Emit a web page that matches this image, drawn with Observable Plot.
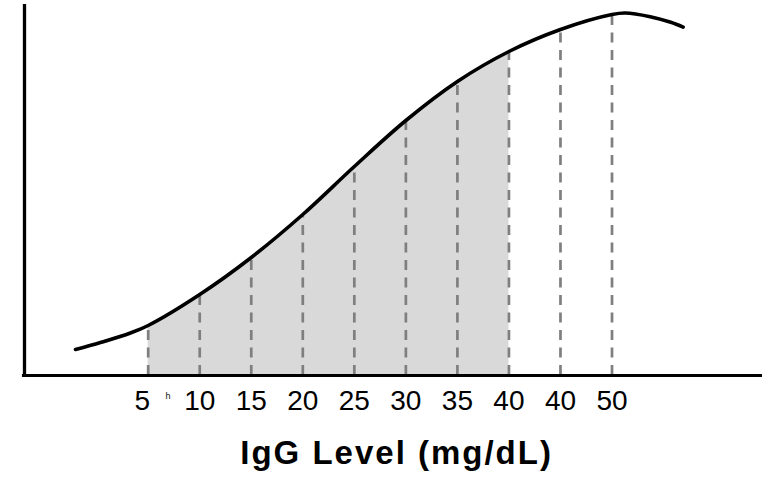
<!DOCTYPE html>
<html>
<head>
<meta charset="utf-8">
<script src="https://cdn.jsdelivr.net/npm/d3@7"></script>
<script src="https://cdn.jsdelivr.net/npm/@observablehq/plot@0.6"></script>
<style>
  html, body { margin: 0; padding: 0; background: #ffffff; }
  #chart { width: 762px; height: 477px; }
</style>
</head>
<body>
<div id="chart"></div>
<script>
// Curve (IgG level vs. arbitrary response)
const curveX = [-2.05, 0.37, 3.28, 5, 10, 15, 20, 25, 30, 35, 40, 45, 50, 51.3, 53.7, 55.7, 56.9];
const curveY = [7.0, 8.89, 11.46, 13.48, 21.83, 31.81, 43.4, 56.33, 68.73, 79.25, 87.33, 93.26, 97.3, 97.7, 96.7, 95.2, 93.9];

// Tick positions and their printed labels (as shown in the original)
const tickValues = [5, 10, 15, 20, 25, 30, 35, 40, 45, 50];
const tickLabels = ["5", "10", "15", "20", "25", "30", "35", "40", "40", "50"];

// Shaded range
const shadeFrom = 5;
const shadeTo = 40;

// Stray mark between 5 and 10
const strayX = [6.92];
const strayText = ["h"];

const axisTitle = "IgG Level (mg/dL)";
const titleX = 29.1;

const curve = curveX.map((x, i) => ({x, y: curveY[i]}));
const shaded = curve.filter(d => d.x >= shadeFrom && d.x <= shadeTo);
const ticks = tickValues.map((x, i) => ({
  x,
  label: tickLabels[i],
  top: curveY[curveX.indexOf(x)]
}));

const chart = Plot.plot({
  width: 762,
  height: 477,
  marginLeft: 24,
  marginRight: 0,
  marginTop: 4,
  marginBottom: 102,
  x: {domain: [-7, 64.6], axis: null},
  y: {domain: [0, 100], axis: null},
  style: {fontFamily: "'Liberation Sans', Arial, sans-serif", background: "#ffffff", overflow: "visible"},
  marks: [
    Plot.areaY(shaded, {x: "x", y: "y", curve: "catmull-rom", fill: "#d9d9d9"}),
    Plot.ruleX(ticks, {x: "x", y1: 0, y2: "top", stroke: "#7f7f7f", strokeWidth: 2.7, strokeDasharray: "10,7.5"}),
    Plot.line(curve, {x: "x", y: "y", curve: "catmull-rom", stroke: "#000000", strokeWidth: 3.6, strokeLinecap: "round"}),
    Plot.ruleX([-7], {y1: 0, y2: 100, stroke: "#000000", strokeWidth: 3.3}),
    Plot.ruleY([0], {x1: -7.2, x2: 64.6, stroke: "#000000", strokeWidth: 3}),
    Plot.text(ticks.slice(0, 1), {x: "x", y: 0, text: "label", lineAnchor: "top", dy: 15, dx: -6, fontSize: 28, fill: "#000000"}),
    Plot.text(ticks.slice(1), {x: "x", y: 0, text: "label", lineAnchor: "top", dy: 15, fontSize: 28, fill: "#000000"}),
    Plot.text(strayX, {x: d => d, y: 0, text: (d, i) => strayText[i], lineAnchor: "top", dy: 17.5, fontSize: 9, fill: "#111111"}),
    Plot.text([axisTitle], {x: titleX, y: 0, text: d => d, lineAnchor: "top", dy: 65, fontSize: 33, fontWeight: "bold", fill: "#000000", className: "axis-title"})
  ]
});
d3.select(chart).selectAll(".axis-title text").attr("letter-spacing", "2px");
document.getElementById("chart").appendChild(chart);
</script>
</body>
</html>
